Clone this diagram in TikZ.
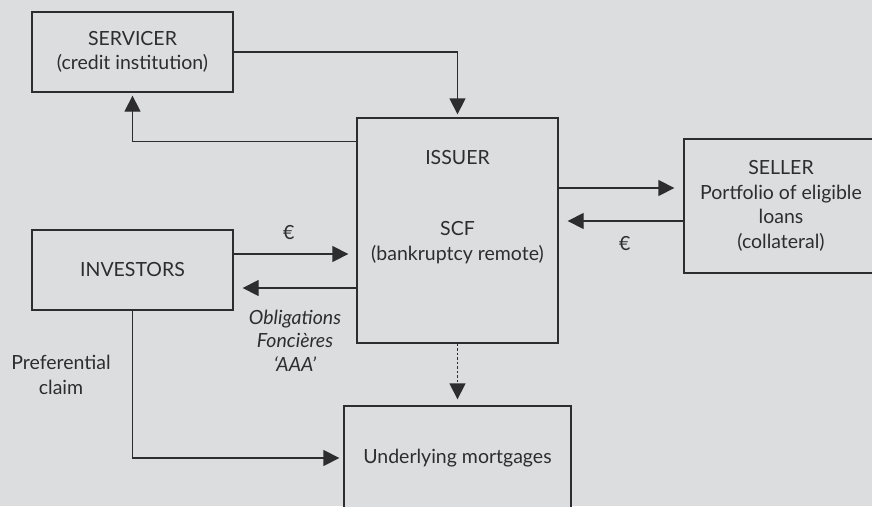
\documentclass[tikz,border=0pt]{standalone}
\usepackage{fontspec}
\setmainfont{Lato}
\usetikzlibrary{arrows.meta}
\definecolor{bg}{RGB}{220,221,223}
\definecolor{ink}{RGB}{45,45,48}

\begin{document}
\begin{tikzpicture}[
  x=1pt, y=-1pt,
  every node/.style={font=\fontsize{19.5}{24.5}\selectfont, text=ink},
  box/.style={rectangle, draw=ink, line width=1.3pt, fill=bg, minimum width=201pt, minimum height=80pt, align=center, inner sep=0pt},
  arrow/.style={-{Triangle[length=16pt,width=16pt]}, draw=ink, line width=1.3pt},
  note/.style={align=center}
]
\useasboundingbox[fill=bg] (0,0) rectangle (872,506);

% Main components
\node[box] (servicer) at (132.5,52) {SERVICER\\(credit institution)};
\node[box, minimum height=225pt] (issuer) at (457.5,230.5) {};
\node[box, minimum width=194pt, minimum height=134pt] (seller) at (781,206) {SELLER\\Portfolio of eligible\\loans\\(collateral)};
\node[box] (investors) at (132.5,270) {INVESTORS};
\node[box, minimum width=227pt, minimum height=104pt] (mortgages) at (457.5,458) {Underlying mortgages};

% Issuer texts
\node[anchor=center] (issuertitle) at ([yshift=-40pt]issuer.north) {ISSUER};
\node[note] (scf) at ([yshift=-12pt]issuer.center) {SCF\\(bankruptcy remote)};

% Arrows
\draw[arrow, shorten >=3pt] (servicer.east) -| (issuer.north);
\draw[arrow, shorten >=3pt] ([yshift=-24pt]issuer.north west) -| (servicer.south);

\draw[arrow, shorten >=9pt] ([yshift=18pt]seller.west -| issuer.east) -- ([yshift=18pt]seller.west);
\draw[arrow, shorten >=9pt] ([yshift=-15pt]seller.west) -- ([yshift=-15pt]seller.west -| issuer.east)
  node[pos=0.47, below=11pt] (eurosell) {€};

\draw[arrow, shorten >=8pt] ([yshift=16pt]investors.east) -- ([yshift=16pt]investors.east -| issuer.west)
  node[pos=0.45, above=10pt] (euroinv) {€};
\draw[arrow, shorten >=9pt] ([yshift=-18pt]investors.east -| issuer.west) -- ([yshift=-18pt]investors.east)
  node[pos=0.5, below=18pt, note, font=\fontsize{19.5}{23.5}\selectfont\itshape] (bonds) {Obligations\\Foncières\\‘AAA’};

\draw[arrow, dash pattern=on 2.5pt off 2pt, shorten >=6pt] (issuer.south) -- (mortgages.north);
\draw[arrow, shorten >=4pt] (investors.south) |- (mortgages.west);

\node[note] (claim) at (61,375) {Preferential\\claim};

\end{tikzpicture}
\end{document}
